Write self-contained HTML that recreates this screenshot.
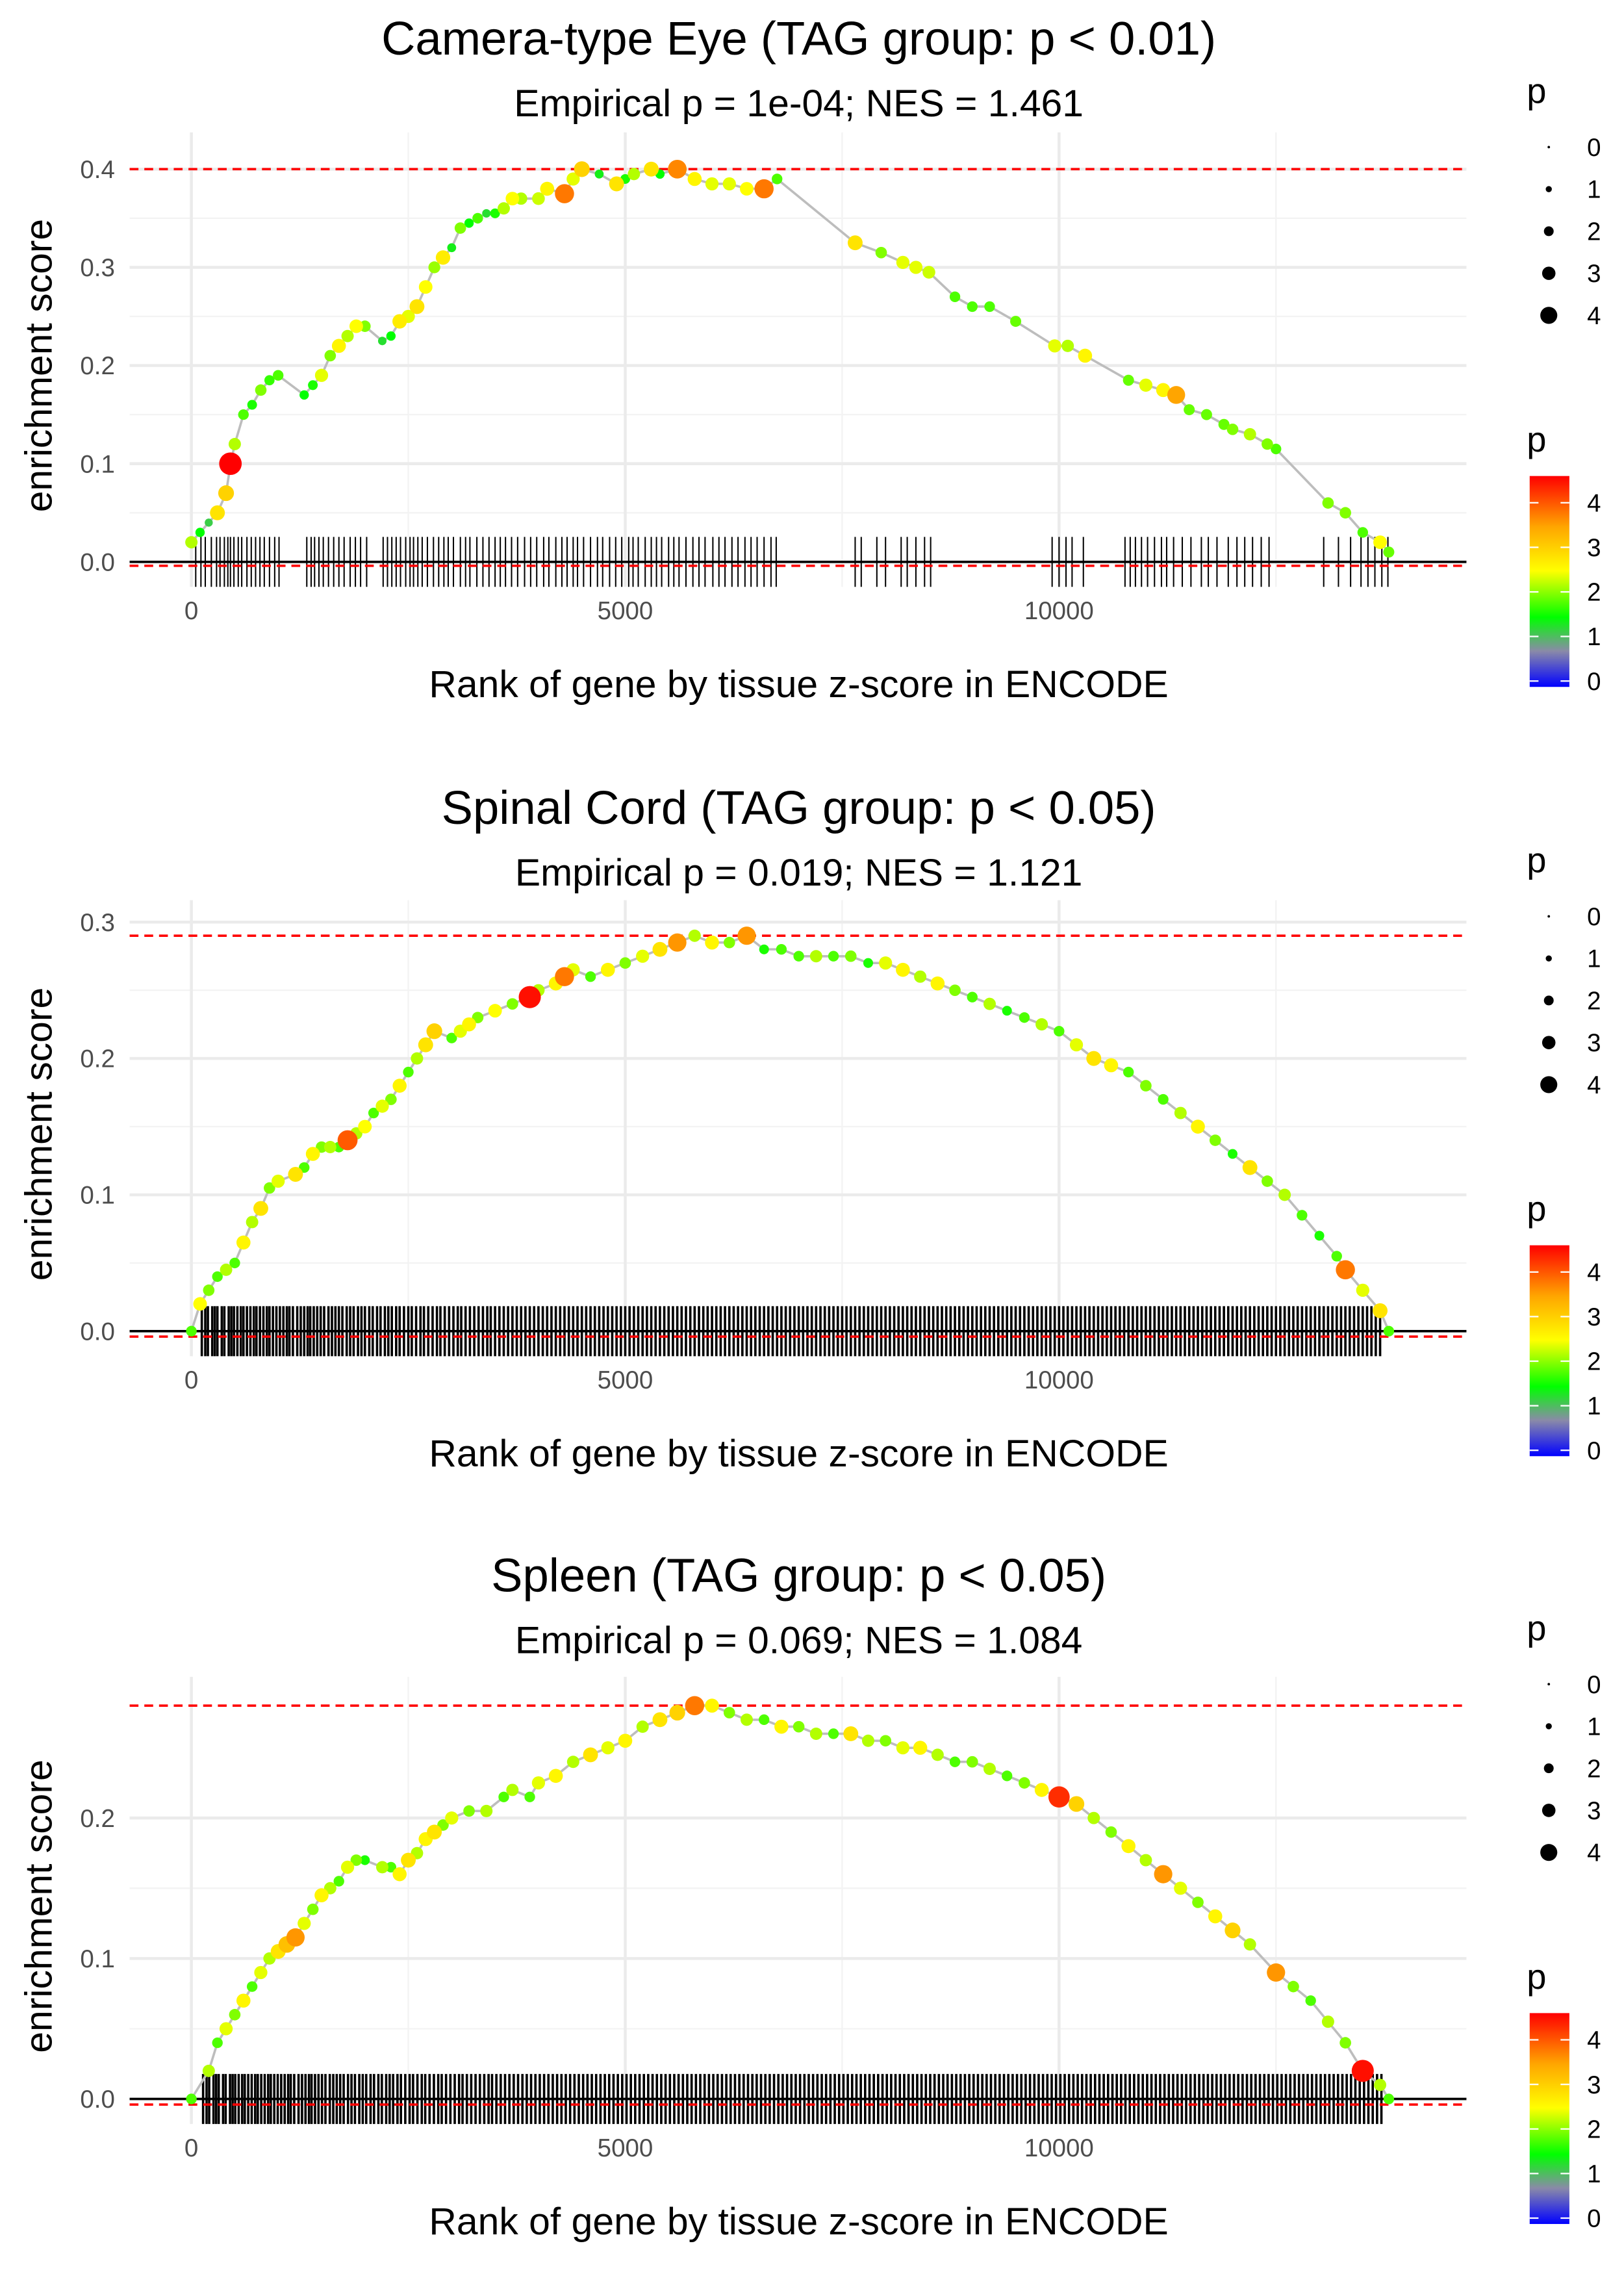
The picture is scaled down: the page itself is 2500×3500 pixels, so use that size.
<!DOCTYPE html>
<html><head><meta charset="utf-8"><style>
html,body{margin:0;padding:0;background:#fff}
svg{display:block;font-family:"Liberation Sans",Arial,sans-serif}
</style></head><body>
<svg id="chart" width="2500" height="3500" viewBox="0 0 1104 1546" xmlns="http://www.w3.org/2000/svg">
<defs>
<linearGradient id="pgrad" x1="0" y1="1" x2="0" y2="0">
<stop offset="0" stop-color="#0000ff"/><stop offset="0.17" stop-color="#8a8aa8"/>
<stop offset="0.33" stop-color="#00ff00"/><stop offset="0.55" stop-color="#ffff00"/>
<stop offset="0.76" stop-color="#ffa500"/><stop offset="1" stop-color="#ff0000"/>
</linearGradient>
</defs>
</svg>
<script>
// ---------- data ----------
const xTicks = [0, 5000, 10000];
const xTickLabels = ["0", "5000", "10000"];
const eyeTitle = "Camera-type Eye (TAG group: p < 0.01)";
const eyeSub = "Empirical p = 1e-04; NES = 1.461";
const eyeYTicks = [0, 0.1, 0.2, 0.3, 0.4];
const eyeYTickLabels = ["0.0", "0.1", "0.2", "0.3", "0.4"];
const eyeRanks = [0,100,200,300,400,450,500,600,700,800,900,1000,1300,1400,1500,1600,1700,1800,1900,2000,2200,2300,2400,2500,2600,2700,2800,2900,3000,3100,3200,3300,3400,3500,3600,3700,3800,4000,4100,4300,4400,4500,4700,4900,5000,5100,5300,5400,5600,5800,6000,6200,6400,6600,6750,7650,7950,8200,8350,8500,8800,9000,9200,9500,9950,10100,10300,10800,11000,11200,11350,11500,11700,11900,12000,12200,12400,12500,13100,13300,13500,13700,13800];
const eyeES = [0.02,0.03,0.04,0.05,0.07,0.10,0.12,0.15,0.16,0.175,0.185,0.19,0.17,0.18,0.19,0.21,0.22,0.23,0.24,0.24,0.225,0.23,0.245,0.25,0.26,0.28,0.30,0.31,0.32,0.34,0.345,0.35,0.355,0.355,0.36,0.37,0.37,0.37,0.38,0.375,0.39,0.40,0.395,0.385,0.39,0.395,0.40,0.395,0.40,0.39,0.385,0.385,0.38,0.38,0.39,0.325,0.315,0.305,0.30,0.295,0.27,0.26,0.26,0.245,0.22,0.22,0.21,0.185,0.18,0.175,0.17,0.155,0.15,0.14,0.135,0.13,0.12,0.115,0.06,0.05,0.03,0.02,0.01];
const eyeP = [2.2,1.5,1.2,2.8,3.0,4.6,2.2,1.8,1.6,2.0,1.7,1.8,1.5,1.6,2.4,2.0,2.6,2.2,2.5,2.0,1.3,1.5,2.7,2.4,2.8,2.5,2.1,2.7,1.4,2.0,1.5,1.8,1.3,1.6,2.2,2.5,2.2,2.3,2.6,3.8,2.4,3.0,1.4,2.8,1.6,2.2,2.8,1.5,3.7,2.6,2.4,2.4,2.5,3.8,1.8,2.8,2.0,2.4,2.4,2.3,1.8,1.8,1.8,1.9,2.4,2.2,2.6,1.9,2.4,2.6,3.5,1.9,1.9,1.9,2.0,2.2,2.0,1.8,2.0,2.0,1.8,2.5,1.9];
const eyeRug = [50,110,160,230,290,330,380,420,450,490,540,580,640,690,740,790,840,900,960,1010,1330,1380,1420,1470,1520,1580,1640,1700,1760,1830,1890,1950,2020,2210,2260,2310,2360,2410,2470,2520,2560,2610,2660,2720,2790,2850,2910,2960,3020,3100,3160,3210,3290,3360,3430,3500,3560,3620,3690,3760,3840,3910,3980,4060,4120,4200,4270,4330,4400,4450,4520,4600,4680,4740,4820,4890,4960,5040,5090,5150,5230,5300,5360,5420,5500,5560,5620,5700,5780,5850,5920,6010,6080,6150,6230,6300,6380,6450,6520,6600,6680,6740,7650,7720,7900,8000,8180,8250,8350,8450,8520,9920,10000,10080,10150,10280,10760,10820,10880,10950,11020,11100,11180,11240,11320,11420,11520,11640,11720,11820,11950,12050,12140,12230,12330,12420,13050,13220,13360,13480,13560,13640,13720,13790];

const scTitle = "Spinal Cord (TAG group: p < 0.05)";
const scSub = "Empirical p = 0.019; NES = 1.121";
const scYTicks = [0, 0.1, 0.2, 0.3];
const scYTickLabels = ["0.0", "0.1", "0.2", "0.3"];
const scRanks = [0,100,200,300,400,500,600,700,800,900,1000,1200,1300,1400,1500,1600,1700,1800,1900,2000,2100,2200,2300,2400,2500,2600,2700,2800,3000,3100,3200,3300,3500,3700,3900,4000,4200,4300,4400,4600,4800,5000,5200,5400,5600,5800,6000,6200,6400,6600,6800,7000,7200,7400,7600,7800,8000,8200,8400,8600,8800,9000,9200,9400,9600,9800,10000,10200,10400,10600,10800,11000,11200,11400,11600,11800,12000,12200,12400,12600,12800,13000,13200,13300,13500,13700,13800];
const scES = [0.0,0.02,0.03,0.04,0.045,0.05,0.065,0.08,0.09,0.105,0.11,0.115,0.12,0.13,0.135,0.135,0.135,0.14,0.145,0.15,0.16,0.165,0.17,0.18,0.19,0.20,0.21,0.22,0.215,0.22,0.225,0.23,0.235,0.24,0.245,0.25,0.255,0.26,0.265,0.26,0.265,0.27,0.275,0.28,0.285,0.29,0.285,0.285,0.29,0.28,0.28,0.275,0.275,0.275,0.275,0.27,0.27,0.265,0.26,0.255,0.25,0.245,0.24,0.235,0.23,0.225,0.22,0.21,0.20,0.195,0.19,0.18,0.17,0.16,0.15,0.14,0.13,0.12,0.11,0.10,0.085,0.07,0.055,0.045,0.03,0.015,0.0];
const scP = [1.8,2.5,2.0,1.8,2.2,1.8,2.6,2.2,2.8,2.0,2.4,2.8,1.8,2.6,2.0,2.2,1.8,4.0,2.2,2.5,1.8,2.4,2.0,2.6,1.8,2.2,2.8,3.0,1.8,2.4,2.6,2.0,2.5,2.0,4.5,2.2,2.6,3.8,2.4,1.8,2.6,2.0,2.4,2.8,3.6,2.2,2.6,2.0,3.6,1.6,1.8,1.8,2.2,1.8,2.0,1.6,2.4,2.6,2.2,2.6,2.0,1.8,2.2,1.6,1.8,2.2,1.8,2.4,2.8,2.6,1.8,2.0,1.8,2.2,2.6,2.0,1.6,2.8,2.0,2.2,1.8,1.6,1.8,3.8,2.4,2.8,1.8];
const scRugStart = [120,160,190,240,270,300,350,380,430,460,490,530,570,600,640,680,720,750,790,830,870,900,940,980,1020,1060,1100,1130,1170,1220,1260,1300,1340,1370,1410,1450,1490,1530,1580,1620,1660,1700,1740,1790,1830,1870,1920,1960,2000,2050,2090,2140,2180,2230,2270,2310,2360,2400,2450,2500,2540,2590,2640,2680,2730,2780,2830,2870,2920,2970,3020,3070,3110,3160,3210,3260,3310,3360,3410,3450,3500,3550,3600,3650,3700,3750,3800,3850,3900,3950,4000,4050,4100,4150,4200,4250,4300,4350,4400,4450,4500,4550,4600,4650,4700,4750,4800,4850,4900,4950,5000,5050,5100,5150,5200,5250,5300,5350,5400,5450,5500,5550,5600,5650,5700,5750,5800,5850,5900,5950,6000,6050,6100,6150,6200,6250,6300,6350,6400,6450,6500,6550,6600,6650,6700,6750,6800,6850,6900,6950,7000,7050,7100,7150,7200,7250,7300,7350,7400,7450,7500,7550,7600,7650,7700,7750,7800,7850,7900,7950,8000,8050,8100,8150,8200,8250,8300,8350,8400,8450,8500,8550,8600,8650,8700,8750,8800,8850,8900,8950,9000,9050,9100,9150,9200,9250,9300,9350,9400,9450,9500,9550,9600,9650,9700,9750,9800,9850,9900,9950,10000,10050,10100,10150,10200,10250,10300,10350,10400,10450,10500,10550,10600,10650,10700,10750,10800,10850,10900,10950,11000,11050,11100,11150,11200,11250,11300,11350,11400,11450,11500,11550,11600,11650,11700,11750,11800,11850,11900,11950,12000,12050,12100,12150,12200,12250,12300,12350,12400,12450,12500,12550,12600,12650,12700,12750,12800,12850,12900,12950,13000,13050,13100,13150,13200,13250,13300,13350,13400,13450,13500,13550,13600,13650,13700];
const scRug = scRugStart.slice();

const spTitle = "Spleen (TAG group: p < 0.05)";
const spSub = "Empirical p = 0.069; NES = 1.084";
const spYTicks = [0, 0.1, 0.2];
const spYTickLabels = ["0.0", "0.1", "0.2"];
const spRanks = [0,200,300,400,500,600,700,800,900,1000,1100,1200,1300,1400,1500,1600,1700,1800,1900,2000,2200,2300,2400,2500,2600,2700,2800,2900,3000,3200,3400,3600,3700,3900,4000,4200,4400,4600,4800,5000,5200,5400,5600,5800,6000,6200,6400,6600,6800,7000,7200,7400,7600,7800,8000,8200,8400,8600,8800,9000,9200,9400,9600,9800,10000,10200,10400,10600,10800,11000,11200,11400,11600,11800,12000,12200,12500,12700,12900,13100,13300,13500,13700,13800];
const spES = [0.0,0.02,0.04,0.05,0.06,0.07,0.08,0.09,0.10,0.105,0.11,0.115,0.125,0.135,0.145,0.15,0.155,0.165,0.17,0.17,0.165,0.165,0.16,0.17,0.175,0.185,0.19,0.195,0.20,0.205,0.205,0.215,0.22,0.215,0.225,0.23,0.24,0.245,0.25,0.255,0.265,0.27,0.275,0.28,0.28,0.275,0.27,0.27,0.265,0.265,0.26,0.26,0.26,0.255,0.255,0.25,0.25,0.245,0.24,0.24,0.235,0.23,0.225,0.22,0.215,0.21,0.20,0.19,0.18,0.17,0.16,0.15,0.14,0.13,0.12,0.11,0.09,0.08,0.07,0.055,0.04,0.02,0.01,0.0];
const spP = [1.8,2.2,1.8,2.4,2.0,2.6,1.8,2.4,2.2,2.8,3.2,3.6,2.4,2.0,2.6,2.2,1.8,2.4,2.0,1.6,2.2,1.8,2.6,2.8,2.2,2.6,2.8,2.0,2.4,2.0,2.2,1.8,2.2,1.8,2.4,2.6,2.2,2.8,2.4,2.6,2.2,2.8,3.0,3.8,2.6,2.0,2.2,1.8,2.6,2.0,2.2,1.8,2.8,2.2,2.0,2.4,2.6,2.2,1.8,2.0,2.2,1.8,2.0,2.6,4.3,3.0,2.2,2.0,2.6,2.2,3.6,2.4,2.0,2.6,3.0,2.2,3.6,2.0,1.8,2.2,2.0,4.5,2.2,1.8];
const spRug = scRugStart.map(r => r + 15);

const legendSizes = [0, 1, 2, 3, 4];
const legendColorTicks = [0, 1, 2, 3, 4];

// ---------- drawing ----------
const NS = "http://www.w3.org/2000/svg";
const svg = document.getElementById("chart");
function mk(tag, attrs, parent, text) {
  const e = document.createElementNS(NS, tag);
  for (const k in attrs) e.setAttribute(k, attrs[k]);
  if (text !== undefined) e.textContent = text;
  (parent || svg).appendChild(e);
  return e;
}
const X0 = 130, XK = 0.059, PL = 88, PR = 997;
const xs = r => X0 + r * XK;
const stops = [[0,[0,0,255]],[0.8,[138,138,168]],[1.5,[0,255,0]],[2.5,[255,255,0]],[3.5,[255,165,0]],[4.6,[255,0,0]]];
function pcol(p) {
  if (p <= stops[0][0]) return "rgb(0,0,255)";
  for (let i = 1; i < stops.length; i++) {
    if (p <= stops[i][0]) {
      const t = (p - stops[i-1][0]) / (stops[i][0] - stops[i-1][0]);
      const a = stops[i-1][1], b = stops[i][1];
      return "rgb(" + a.map((v, j) => Math.round(v + (b[j]-v)*t)).join(",") + ")";
    }
  }
  return "rgb(255,0,0)";
}
const prad = p => 1 + p * 1.45;

const panels = [
  {title: eyeTitle, sub: eyeSub, yt: eyeYTicks, ytl: eyeYTickLabels, ranks: eyeRanks, es: eyeES, p: eyeP, rug: eyeRug, off: 0, y0: 382, k: 667.5, top: 90, name: "camera-type-eye"},
  {title: scTitle, sub: scSub, yt: scYTicks, ytl: scYTickLabels, ranks: scRanks, es: scES, p: scP, rug: scRug, off: 523, y0: 905, k: 927, top: 612, name: "spinal-cord"},
  {title: spTitle, sub: spSub, yt: spYTicks, ytl: spYTickLabels, ranks: spRanks, es: spES, p: spP, rug: spRug, off: 1045, y0: 1427, k: 955, top: 1140, name: "spleen"}
];

panels.forEach(pn => {
  const g = mk("g", {});
  
  
  const ys = v => pn.y0 - v * pn.k;
  const bottom = pn.y0 + 17;
  const t = mk("text", {x: 543, y: pn.off + 37, "text-anchor": "middle", "font-size": 32, fill: "#000"}, g, pn.title);
  
  
  const s = mk("text", {x: 543, y: pn.off + 79, "text-anchor": "middle", "font-size": 26, fill: "#000"}, g, pn.sub);
  
  
  for (let i = 0; i < pn.yt.length - 1; i++) {
    const yv = ys((pn.yt[i] + pn.yt[i+1]) / 2);
    mk("line", {x1: PL, x2: PR, y1: yv, y2: yv, stroke: "#f3f3f3", "stroke-width": 1}, g);
  }
  [2500, 7500, 12500].forEach(r => mk("line", {x1: xs(r), x2: xs(r), y1: pn.top, y2: bottom, stroke: "#f3f3f3", "stroke-width": 1}, g));
  pn.yt.forEach((v, i) => {
    mk("line", {x1: PL, x2: PR, y1: ys(v), y2: ys(v), stroke: "#ebebeb", "stroke-width": 2}, g);
    const l = mk("text", {x: 78, y: ys(v) + 6, "text-anchor": "end", "font-size": 17, fill: "#4d4d4d"}, g, pn.ytl[i]);
    
    
  });
  xTicks.forEach((r, i) => {
    mk("line", {x1: xs(r), x2: xs(r), y1: pn.top, y2: bottom, stroke: "#ebebeb", "stroke-width": 2}, g);
    const l = mk("text", {x: xs(r), y: bottom + 22, "text-anchor": "middle", "font-size": 17, fill: "#4d4d4d"}, g, xTickLabels[i]);
    
    
  });
  const xt = mk("text", {x: 543, y: bottom + 75, "text-anchor": "middle", "font-size": 26, fill: "#000"}, g, "Rank of gene by tissue z-score in ENCODE");
  
  
  const ycen = (pn.top + bottom) / 2 + 4;
  const yt = mk("text", {x: 35, y: ycen, "text-anchor": "middle", "font-size": 26, fill: "#000", transform: "rotate(-90 35 " + ycen + ")"}, g, "enrichment score");
  
  
  pn.rug.forEach(r => {
    const ln = mk("line", {x1: xs(r), x2: xs(r), y1: pn.y0 - 17, y2: pn.y0 + 17, stroke: "#000", "stroke-width": pn.rug.length > 200 ? 1.6 : 0.9}, g);
    
    
  });
  mk("line", {x1: PL, x2: PR, y1: ys(0), y2: ys(0), stroke: "#000", "stroke-width": 1.6}, g);
  const mx = Math.max(...pn.es), mn = Math.min(0, ...pn.es) - 0.004;
  [mx, mn].forEach(v => {
    const d = mk("line", {x1: PL, x2: PR, y1: ys(v), y2: ys(v), stroke: "#ff0000", "stroke-width": 1.6, "stroke-dasharray": "6,4"}, g);
    
    
  });
  const pts = pn.ranks.map((r, i) => xs(r).toFixed(1) + "," + ys(pn.es[i]).toFixed(1)).join(" ");
  const pl = mk("polyline", {points: pts, fill: "none", stroke: "#bdbdbd", "stroke-width": 1.6}, g);
  
  
  const order = pn.ranks.map((_, i) => i).sort((a, b) => pn.p[a] - pn.p[b]);
  order.forEach(i => {
    const c = mk("circle", {cx: xs(pn.ranks[i]), cy: ys(pn.es[i]), r: prad(pn.p[i]), fill: pcol(pn.p[i])}, g);
    
    
  });
  const lg = mk("g", {}, g);
  
  
  mk("text", {x: 1038, y: pn.off + 70, "font-size": 24, fill: "#000"}, lg, "p");
  legendSizes.forEach((v, i) => {
    const yy = pn.off + 100 + i * 28.6;
    mk("circle", {cx: 1053, cy: yy, r: prad(v) * 0.85, fill: "#000"}, lg);
    mk("text", {x: 1079, y: yy + 6, "font-size": 17, fill: "#000"}, lg, String(v));
  });
  const cg = mk("g", {}, g);
  
  
  mk("text", {x: 1038, y: pn.off + 307, "font-size": 24, fill: "#000"}, cg, "p");
  const cy0 = pn.off + 463, ck = 30.3;
  mk("rect", {x: 1040, y: cy0 - 4.6 * ck, width: 27, height: 4.6 * ck + 4, fill: "url(#pgrad)"}, cg);
  legendColorTicks.forEach(v => {
    const yy = cy0 - v * ck;
    mk("line", {x1: 1040, x2: 1046, y1: yy, y2: yy, stroke: "#fff", "stroke-width": 1}, cg);
    mk("line", {x1: 1061, x2: 1067, y1: yy, y2: yy, stroke: "#fff", "stroke-width": 1}, cg);
    mk("text", {x: 1079, y: yy + 6, "font-size": 17, fill: "#000"}, cg, String(v));
  });
});
</script>
</body></html>
